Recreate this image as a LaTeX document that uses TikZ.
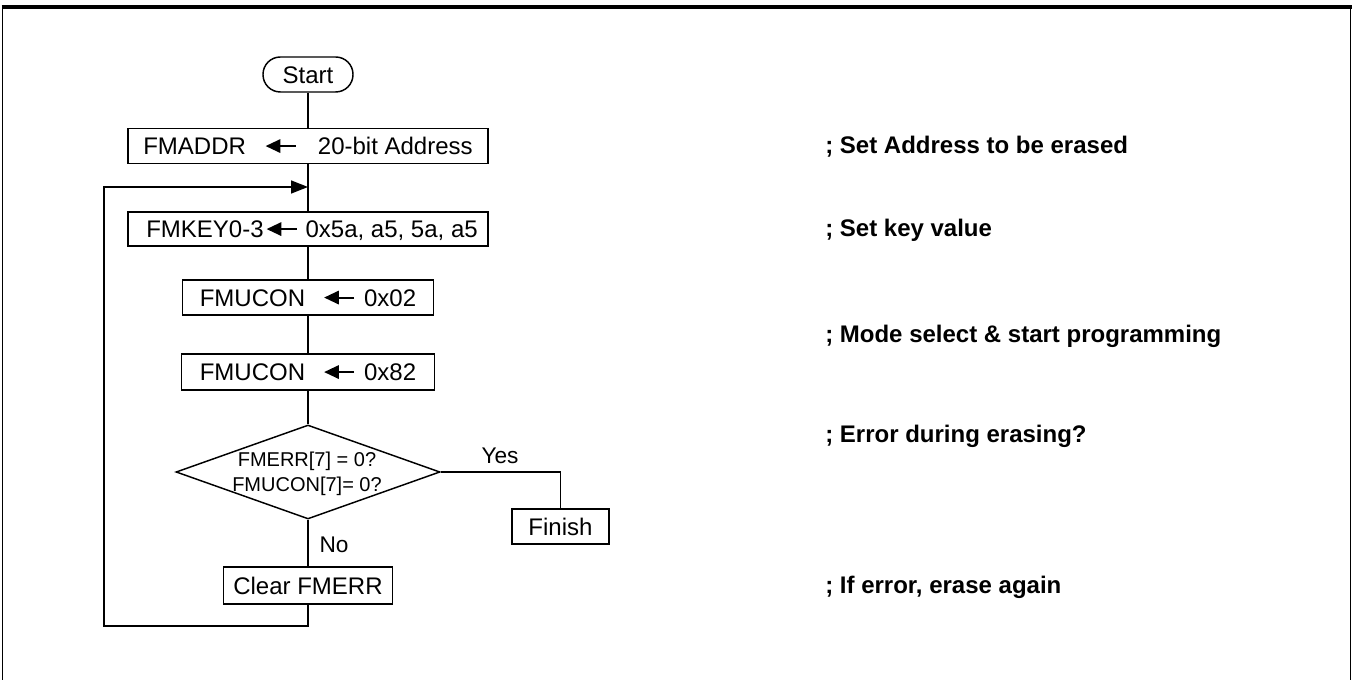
\documentclass[tikz,border=0pt]{standalone}
\usepackage{fontspec}
\setmainfont{Liberation Sans}
\usetikzlibrary{arrows.meta,shapes.geometric}
\newcommand\flarr{\tikz[baseline=-6.4pt]\draw[line width=1.5pt,-{Triangle[length=11pt,width=10pt]}] (22.5pt,0)--(0pt,0);}
\begin{document}
\begin{tikzpicture}[x=0.75pt,y=-0.75pt,
  conn/.style={draw,line width=1.1pt},
  box/.style={draw,line width=1.1pt,inner sep=0pt,font=\fontsize{18}{21}\selectfont,text height=12.9pt,text depth=0pt},
  term/.style={box,rounded corners=13pt},
  dia/.style={diamond,draw,line width=1.1pt,inner sep=0pt,minimum width=198pt,minimum height=70.5pt},
  dtext/.style={inner sep=0pt,align=center,font=\fontsize{15}{18.75}\selectfont},
  lab/.style={inner sep=0pt,font=\fontsize{17}{20}\selectfont,text height=12.2pt,text depth=0pt},
  cmt/.style={inner sep=0pt,anchor=base west,font=\bfseries\fontsize{18}{21}\selectfont}]
\useasboundingbox (0,0) rectangle (1353,680);
% frame
\draw[line width=2.6pt] (1.5,7) -- (1351.5,7);
\draw[line width=1.1pt] (2.5,6) -- (2.5,680);
\draw[line width=1.1pt] (1350.5,6) -- (1350.5,680);
% nodes
\node[term,minimum width=67.5pt,minimum height=26.25pt] (start) at (308,74.5) {Start};
\node[box,minimum width=270pt,minimum height=26.25pt] (addr) at (308,146) {FMADDR\hspace{14pt}\flarr\hspace{16pt}20-bit Address};
\node[box,minimum width=270pt,minimum height=25.5pt] (key) at (308,229) {\hspace{6pt}FMKEY0-3\hspace{1.5pt}\flarr\hspace{6pt}0x5a, a5, 5a, a5};
\node[box,minimum width=188.25pt,minimum height=26.25pt] (uc1) at (308,297.5) {FMUCON\hspace{13.5pt}\flarr\hspace{6.75pt}0x02};
\node[box,minimum width=189.75pt,minimum height=27pt] (uc2) at (308,372) {FMUCON\hspace{13.5pt}\flarr\hspace{6.75pt}0x82};
\node[dia] (dec) at (308,472) {};
\node[dtext] (dect) at (307,474) {FMERR[7] = 0?\\FMUCON[7]= 0?};
\node[box,minimum width=126.75pt,minimum height=27.75pt] (clr) at (308,585.5) {Clear FMERR};
\node[box,minimum width=72.75pt,minimum height=26.25pt] (fin) at (560.5,526.5) {Finish};
\node[lab] (yes) at (500,455) {Yes};
\node[lab] (no) at (334,544) {No};
% comments
\node[cmt] (c1) at (825,154) {; Set Address to be erased};
\node[cmt] (c2) at (825,237) {; Set key value};
\node[cmt] (c3) at (825,343) {; Mode select \& start programming};
\node[cmt] (c4) at (825,443) {; Error during erasing?};
\node[cmt] (c5) at (825,594) {; If error, erase again};
% connectors
\coordinate (lb) at (104,626);
\coordinate (lt) at (104,187);
\coordinate (jn) at (308,187);
\draw[conn] (start) -- (addr);
\draw[conn] (addr) -- (key);
\draw[conn] (key) -- (uc1);
\draw[conn] (uc1) -- (uc2);
\draw[conn] (uc2) -- (dec.north);
\draw[conn] (dec.south) -- (clr);
\draw[conn] (dec.east) -| (fin.north);
\draw[conn,-{Triangle[length=12.75pt,width=9.75pt]}] (clr.south) -- (clr.south |- lb) -- (lb) -- (lt) -- (jn);
\end{tikzpicture}
\end{document}
